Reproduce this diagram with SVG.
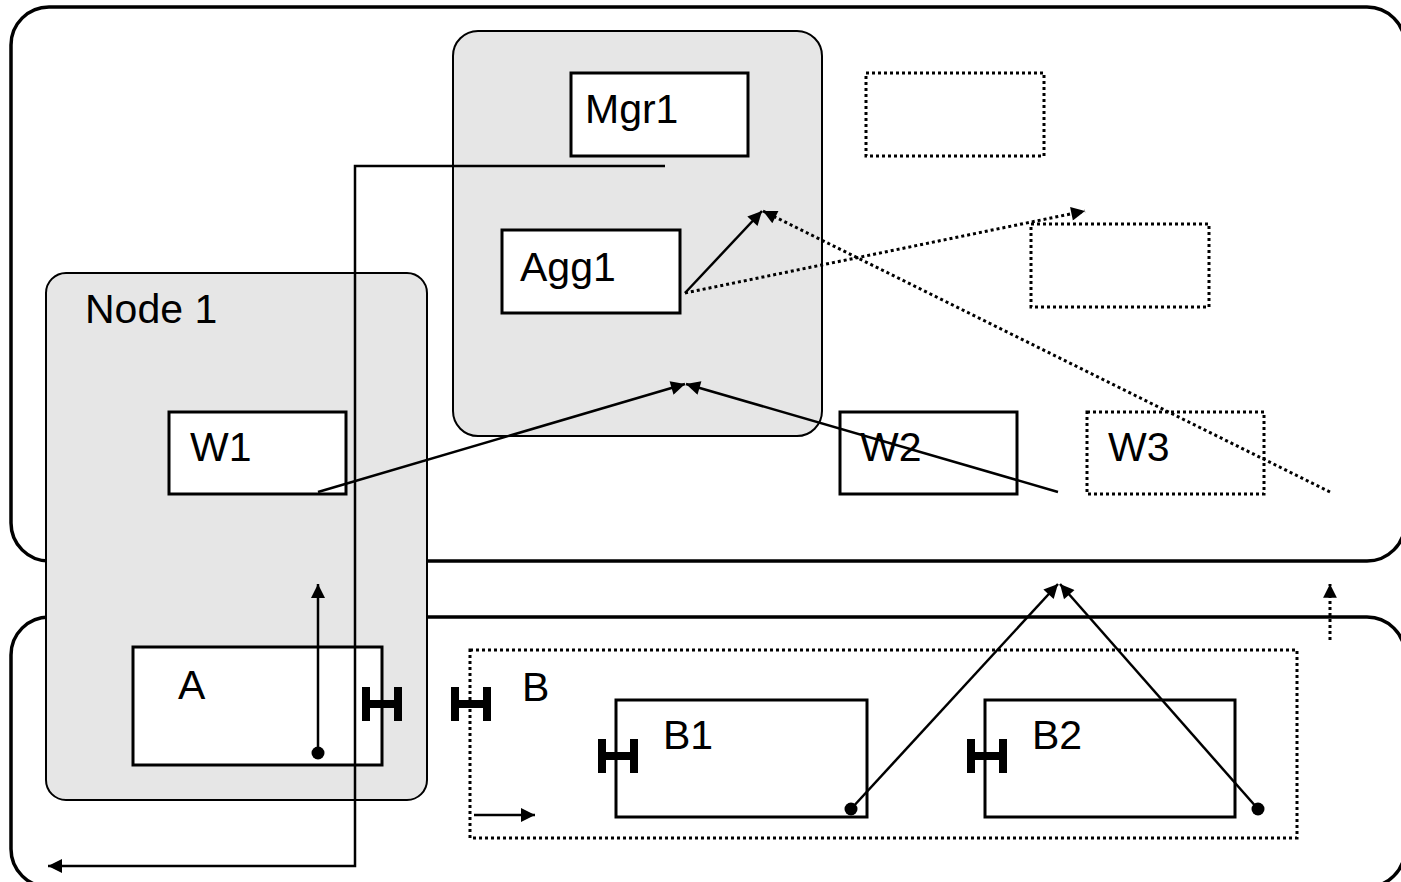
<svg xmlns="http://www.w3.org/2000/svg" width="1401" height="882" viewBox="0 0 1401 882">
  <style>
    .frame { fill: none; stroke: #000; stroke-width: 3.5; }
    .group { fill: #e6e6e6; stroke: #000; stroke-width: 2; }
    .box { fill: #fff; stroke: #000; stroke-width: 3; }
    .dbox { fill: #fff; stroke: #000; stroke-width: 3; stroke-dasharray: 3 3; }
    .dline { fill: none; stroke: #000; stroke-width: 3; stroke-dasharray: 3 3; }
    .label { font-family: "Liberation Sans", Arial, sans-serif; font-size: 41px; fill: #000; }
    .wire { fill: none; stroke: #000; stroke-width: 2.5; }
    .dwire { fill: none; stroke: #000; stroke-width: 3; stroke-dasharray: 3 3; }
    .port { fill: #000; }
  </style>
  <defs>
    <marker id="head" viewBox="0 0 10 10" refX="10" refY="5" markerWidth="7" markerHeight="5.6" markerUnits="strokeWidth" orient="auto">
      <path d="M0,0 L10,5 L0,10 Z" fill="#000"/>
    </marker>
    <marker id="dhead" viewBox="0 0 10 10" refX="10" refY="5" markerWidth="5.6" markerHeight="4.6" markerUnits="strokeWidth" orient="auto">
      <path d="M0,0 L10,5 L0,10 Z" fill="#000"/>
    </marker>
    <!-- port glyph: two bars joined by a crossbar -->
    <g id="port">
      <rect x="0" y="0" width="8" height="34" class="port"/>
      <rect x="32" y="0" width="8" height="34" class="port"/>
      <rect x="0" y="13" width="40" height="8" class="port"/>
    </g>
  </defs>

  <!-- outer domains -->
  <g id="domain-top">
    <rect x="11" y="7" width="1394" height="554" rx="38" class="frame"/>
  </g>
  <g id="domain-bottom">
    <rect x="11" y="617" width="1394" height="270" rx="38" class="frame"/>
  </g>

  <!-- Node 1 -->
  <g id="node1">
    <rect x="46" y="273" width="381" height="527" rx="20" class="group"/>
    <text x="85" y="323" class="label">Node 1</text>
  </g>

  <!-- manager cluster -->
  <g id="cluster">
    <rect x="453" y="31" width="369" height="405" rx="25" class="group"/>
  </g>

  <g id="mgr1">
    <rect x="571" y="73" width="177" height="83" class="box"/>
    <text x="585" y="123" class="label">Mgr1</text>
  </g>
  <g id="agg1">
    <rect x="502" y="230" width="178" height="83" class="box"/>
    <text x="520" y="281" class="label">Agg1</text>
  </g>
  <g id="spare-mgr">
    <rect x="866" y="73" width="178" height="83" class="dbox"/>
  </g>
  <g id="spare-agg">
    <rect x="1031" y="224" width="178" height="83" class="dbox"/>
  </g>
  <g id="w1">
    <rect x="169" y="412" width="177" height="82" class="box"/>
    <text x="190" y="461" class="label">W1</text>
  </g>
  <g id="w2">
    <rect x="840" y="412" width="177" height="82" class="box"/>
    <text x="860" y="461" class="label">W2</text>
  </g>
  <g id="w3">
    <rect x="1087" y="412" width="177" height="82" class="dbox"/>
    <text x="1108" y="461" class="label">W3</text>
  </g>

  <g id="a">
    <rect x="133" y="647" width="249" height="118" class="box"/>
    <text x="178" y="699" class="label">A</text>
    <use href="#port" x="362" y="687"/>
  </g>
  <g id="b">
    <rect x="470" y="650" width="827" height="188" class="dline"/>
    <text x="522" y="701" class="label">B</text>
    <use href="#port" x="451" y="687"/>
  </g>
  <g id="b1">
    <rect x="616" y="700" width="251" height="117" class="box"/>
    <text x="663" y="749" class="label">B1</text>
    <use href="#port" x="598" y="739"/>
  </g>
  <g id="b2">
    <rect x="985" y="700" width="250" height="117" class="box"/>
    <text x="1032" y="749" class="label">B2</text>
    <use href="#port" x="967" y="739"/>
  </g>

  <!-- connectors -->
  <g id="connectors">
    <polyline points="665,166 355,166 355,866 48,866" class="wire" marker-end="url(#head)"/>
    <line x1="318" y1="492" x2="685" y2="384" class="wire" marker-end="url(#head)"/>
    <line x1="1058" y1="492" x2="686" y2="384" class="wire" marker-end="url(#head)"/>
    <line x1="685" y1="293" x2="762" y2="211" class="wire" marker-end="url(#head)"/>
    <line x1="1330" y1="492" x2="763" y2="211" class="dwire" marker-end="url(#dhead)"/>
    <line x1="685" y1="293" x2="1085" y2="211" class="dwire" marker-end="url(#dhead)"/>
    <line x1="318" y1="753" x2="318" y2="584" class="wire" marker-end="url(#head)"/>
    <circle cx="318" cy="753" r="6.5" fill="#000"/>
    <line x1="851" y1="809" x2="1058" y2="584" class="wire" marker-end="url(#head)"/>
    <circle cx="851" cy="809" r="6.5" fill="#000"/>
    <line x1="1258" y1="809" x2="1060" y2="584" class="wire" marker-end="url(#head)"/>
    <circle cx="1258" cy="809" r="6.5" fill="#000"/>
    <line x1="1330" y1="640" x2="1330" y2="584" class="dwire" marker-end="url(#dhead)"/>
    <line x1="474" y1="815" x2="535" y2="815" class="wire" marker-end="url(#head)"/>
  </g>
</svg>
